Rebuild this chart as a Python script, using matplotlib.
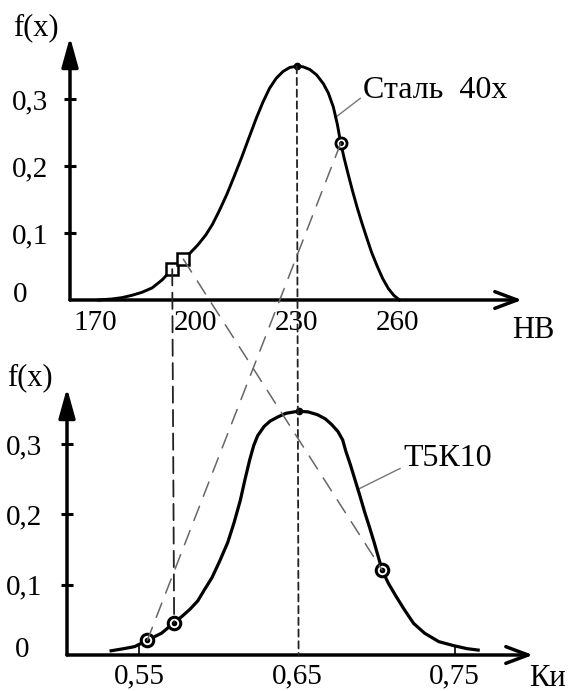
import matplotlib
matplotlib.use("Agg")
import matplotlib.pyplot as plt
import matplotlib.transforms as mtransforms
from matplotlib.patches import ConnectionPatch

plt.rcParams['font.family'] = ['Liberation Serif', 'DejaVu Serif']

# ---------------- data ----------------
# upper chart: steel 40X hardness distribution
hb_top = [171.0, 175.0, 178.0, 181.0, 184.0, 187.0, 190.0, 193.0, 196.3, 198.5,
          200.6, 203.0, 205.0, 207.0, 209.3, 211.5, 213.7, 216.0, 218.1, 220.0,
          222.0, 224.0, 226.0, 228.0, 230.1, 232.0, 234.0, 236.0, 238.0, 239.5,
          241.0, 242.2, 243.2, 244.3, 245.4, 246.7, 248.1, 249.5, 250.8, 252.4,
          254.1, 255.7, 257.4, 259.0, 260.7]
f_top = [0.000, 0.0015, 0.0035, 0.007, 0.0115, 0.018, 0.030, 0.046, 0.061, 0.071,
         0.082, 0.097, 0.113, 0.133, 0.158, 0.185, 0.213, 0.244, 0.272, 0.295,
         0.316, 0.331, 0.341, 0.347, 0.349, 0.348, 0.344, 0.336, 0.323, 0.309,
         0.288, 0.262, 0.234, 0.210, 0.188, 0.163, 0.138, 0.115, 0.095, 0.071,
         0.050, 0.032, 0.017, 0.007, 0.000]
top_squares_x = [193.0, 196.3]
top_squares_y = [0.046, 0.061]
top_circle_x = [243.2]
top_circle_y = [0.234]
top_peak = (230.1, 0.349)
top_xticks = [170, 200, 230, 260]
top_xticklabels = ['170', '200', '230', '260']

# lower chart: T5K10 utilisation coefficient distribution
ki_bot = [0.532, 0.540, 0.547, 0.555, 0.564, 0.572, 0.577, 0.582, 0.587, 0.591,
          0.596, 0.601, 0.606, 0.610, 0.614, 0.617, 0.620, 0.6225, 0.625, 0.629,
          0.633, 0.638, 0.643, 0.651, 0.657, 0.663, 0.668, 0.672, 0.676, 0.679,
          0.681, 0.684, 0.687, 0.690, 0.693, 0.696, 0.699, 0.704, 0.708, 0.713,
          0.718, 0.724, 0.731, 0.740, 0.750, 0.758, 0.765]
f_bot = [0.006, 0.009, 0.012, 0.021, 0.031, 0.046, 0.055, 0.065, 0.077, 0.092,
         0.110, 0.134, 0.160, 0.188, 0.220, 0.250, 0.278, 0.298, 0.312, 0.325,
         0.333, 0.339, 0.344, 0.347, 0.346, 0.342, 0.336, 0.328, 0.318, 0.306,
         0.290, 0.270, 0.248, 0.226, 0.203, 0.182, 0.160, 0.121, 0.102, 0.083,
         0.065, 0.045, 0.031, 0.019, 0.013, 0.009, 0.007]
bot_circles_x = [0.555, 0.572, 0.704]
bot_circles_y = [0.021, 0.046, 0.121]
bot_peak = (0.651, 0.347)
bot_xticks = [0.55, 0.65, 0.75]
bot_xticklabels = ['0,55', '0,65', '0,75']
bot_foot_x = [0.55, 0.75]
bot_foot_y = [0.014, 0.013]

yticks = [0.1, 0.2, 0.3]
yticklabels = ['0,1', '0,2', '0,3']

W, H = 571, 691
fig = plt.figure(figsize=(W / 100, H / 100), dpi=100)

ax1 = fig.add_axes([70 / W, 1 - 300 / H, (522 - 70) / W, (300 - 37) / H])
ax1.set_xlim(162.55, 297.2)
ax1.set_ylim(0, 0.3925)
ax2 = fig.add_axes([67 / W, 1 - 655 / H, (533 - 67) / W, (655 - 388) / H])
ax2.set_xlim(0.504, 0.7998)
ax2.set_ylim(0, 0.380)

TICK_FS = 21
LAB_FS = 22

for ax, xt, xtl, xpad, ypad, zero_x, zero_y, xlabel, xlab_pos, flab_pos in [
        (ax1, top_xticks, top_xticklabels, 7, 38, 13, 0.0075, 'НВ', (533, 330), (13, 28)),
        (ax2, bot_xticks, bot_xticklabels, 6, 40, 15, 0.007, 'Ки', (547, 678), (7, 378))]:
    for s in ax.spines.values():
        s.set_visible(False)
    ax.patch.set_visible(False)
    ax.set_xticks(xt, xtl)
    ax.tick_params(axis='x', length=0, pad=xpad, labelsize=TICK_FS)
    ax.set_yticks(yticks, yticklabels)
    ax.tick_params(axis='y', direction='inout', length=8, width=2.2,
                   pad=ypad, labelsize=TICK_FS)
    for lbl in ax.get_yticklabels():
        lbl.set_ha('left')
    trans = mtransforms.blended_transform_factory(fig.transFigure, ax.transData)
    ax.text(zero_x / W, zero_y, '0', transform=trans, ha='left', va='center',
            fontsize=TICK_FS)
    # axes with arrows
    ax.annotate('', xy=(0, 1), xytext=(0, 0), xycoords='axes fraction',
                arrowprops=dict(arrowstyle='-|>,head_length=0.9,head_width=0.25',
                                lw=2.5, color='k', shrinkA=0, shrinkB=0,
                                mutation_scale=20))
    ax.annotate('', xy=(1, 0), xytext=(0, 0), xycoords='axes fraction',
                arrowprops=dict(arrowstyle='->,head_length=0.8,head_width=0.3',
                                lw=2.5, color='k', shrinkA=0, shrinkB=0,
                                mutation_scale=20))
    fig.text(xlab_pos[0] / W, 1 - xlab_pos[1] / H, xlabel, ha='center',
             va='center', fontsize=LAB_FS)
    fig.text(flab_pos[0] / W, 1 - flab_pos[1] / H, 'f(x)', ha='left',
             va='center', fontsize=LAB_FS)

# curves
ax1.plot(hb_top, f_top, color='k', lw=2.1, zorder=5, clip_on=False,
         solid_joinstyle='round')
ax2.plot(ki_bot, f_bot, color='k', lw=2.3, zorder=5, clip_on=False,
         solid_joinstyle='round')
ax2.vlines(bot_foot_x, 0, bot_foot_y, color='k', lw=1.2, zorder=4)

# markers
ax1.plot(top_squares_x, top_squares_y, ls='none', marker='s', ms=8,
         mfc='white', mec='k', mew=1.8, zorder=6)
ax1.plot(top_circle_x, top_circle_y, ls='none', marker='o', ms=8,
         mfc='white', mec='k', mew=2.0, zorder=6)
ax1.plot(top_circle_x, top_circle_y, ls='none', marker='o', ms=2.5,
         color='k', zorder=7)
ax2.plot(bot_circles_x, bot_circles_y, ls='none', marker='o', ms=9,
         mfc='white', mec='k', mew=2.2, zorder=6)
ax2.plot(bot_circles_x, bot_circles_y, ls='none', marker='o', ms=3,
         color='k', zorder=7)
ax1.plot(*top_peak, marker='o', ms=4.5, color='k', zorder=7)
ax2.plot(*bot_peak, marker='o', ms=4.5, color='k', zorder=7)

# connecting dashed lines between the two charts
def connect(pa, pb, color, dashes, lw):
    con = ConnectionPatch(xyA=pa, coordsA=ax1.transData, xyB=pb,
                          coordsB=ax2.transData, color=color, lw=lw,
                          linestyle=(0, dashes), zorder=2)
    fig.add_artist(con)

connect((top_squares_x[0], top_squares_y[0]), (bot_circles_x[1], bot_circles_y[1]),
        '#222222', (9, 4), 1.3)
connect(top_peak, (bot_peak[0], 0), '#222222', (4, 2.5), 1.3)
connect((top_circle_x[0], top_circle_y[0]), (bot_circles_x[0], bot_circles_y[0]),
        '#666666', (10, 7), 1.1)
connect((top_squares_x[1], top_squares_y[1]), (bot_circles_x[2], bot_circles_y[2]),
        '#666666', (10, 7), 1.1)

# labels with leader lines
ax1.annotate('Сталь  40х', xy=(241.5, 0.272), xytext=(249.9, 0.313),
             ha='left', va='center', fontsize=23,
             arrowprops=dict(arrowstyle='-', color='#777777', lw=1.0,
                             shrinkA=0, shrinkB=0, relpos=(0, 0.3)))
ax2.annotate('Т5К10', xy=(0.688, 0.235), xytext=(0.7173, 0.280),
             ha='left', va='center', fontsize=23,
             arrowprops=dict(arrowstyle='-', color='#777777', lw=1.0,
                             shrinkA=0, shrinkB=0, relpos=(0, 0.2)))

fig.savefig('out.png', dpi=100)
